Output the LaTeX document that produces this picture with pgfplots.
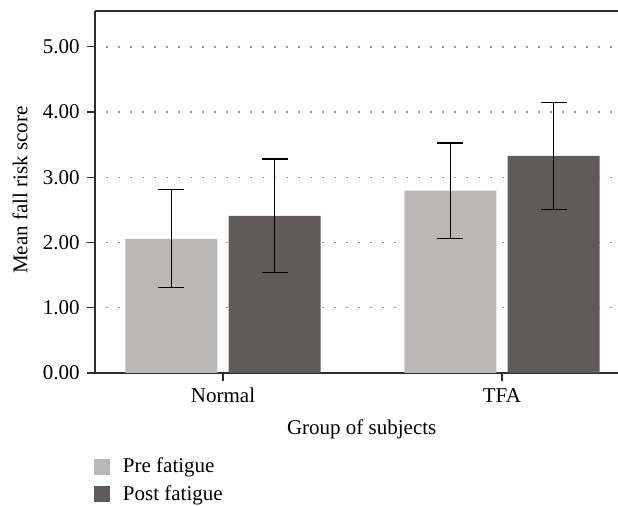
\documentclass[border=0pt]{standalone}
\usepackage{pgfplots}
\pgfplotsset{compat=1.18}
\usepackage{fontspec}
\setmainfont{Liberation Serif}
\definecolor{preC}{RGB}{187,183,182}
\definecolor{postC}{RGB}{96,90,89}
\definecolor{axC}{RGB}{45,45,45}

\begin{document}
\fontsize{10.5}{12.6}\selectfont
\begin{tikzpicture}
\useasboundingbox (-47.5pt,-66.5pt) rectangle (261.5pt,186.5pt);
\begin{axis}[
  at={(0,0)}, anchor=south west,
  scale only axis, width=261.5pt, height=181pt,
  xmin=-0.459, xmax=1.416, ymin=0, ymax=5.55,
  clip=false,
  axis lines*=left, x axis line style={-}, y axis line style={-},
  axis line style={axC, line width=0.6pt},
  xtick={0,1}, xticklabels={Normal,TFA},
  ytick={0,1,...,5},
  tick align=outside, major tick length=4pt,
  tick style={axC, line width=0.6pt},
  yticklabel style={/pgf/number format/.cd, fixed, fixed zerofill, precision=2, assume math mode=true},
  ymajorgrids,
  grid style={gray!80, line width=0.7pt, dash pattern=on 0.7pt off 5.3pt, dash phase=-5.6pt},
  xlabel={Group of subjects},
  ylabel={Mean fall risk score},
  xlabel style={at={(axis description cs:0.51,-0.11)}, anchor=north},
  ylabel style={at={(axis description cs:-0.143,0.505)}, anchor=center},
  ybar, bar width=0.33,
  legend style={at={(axis description cs:0,0)}, anchor=north west, xshift=-0.5pt, yshift=-42.5pt,
    draw=none, fill=none, inner sep=0pt, outer sep=0pt, row sep=4.8pt, column sep=6.5pt,
    nodes={inner sep=0pt, anchor=west}},
  legend cell align=left,
]
\addplot[bar shift=-0.185, fill=preC, draw=none,
  legend image code/.code={\fill[preC] (0pt,-4pt) rectangle (8pt,4pt);},
  error bars/.cd, y dir=both, y explicit,
  error bar style={black, line width=0.6pt},
  error mark options={rotate=90, mark size=6.5pt, line width=0.6pt, black}]
  coordinates {(0,2.057) +- (0,0.75) (1,2.795) +- (0,0.73)};
\addplot[bar shift=0.185, fill=postC, draw=none,
  legend image code/.code={\fill[postC] (0pt,-4pt) rectangle (8pt,4pt);},
  error bars/.cd, y dir=both, y explicit,
  error bar style={black, line width=0.6pt},
  error mark options={rotate=90, mark size=6.5pt, line width=0.6pt, black}]
  coordinates {(0,2.41) +- (0,0.87) (1,3.33) +- (0,0.82)};
\legend{Pre fatigue, Post fatigue}
\draw[axC, line width=0.6pt] (rel axis cs:0,1) -- (rel axis cs:1,1);
\draw[axC, line width=0.6pt] ([xshift=-4pt]rel axis cs:0,0) -- (rel axis cs:0,0);
\end{axis}
\end{tikzpicture}
\end{document}
